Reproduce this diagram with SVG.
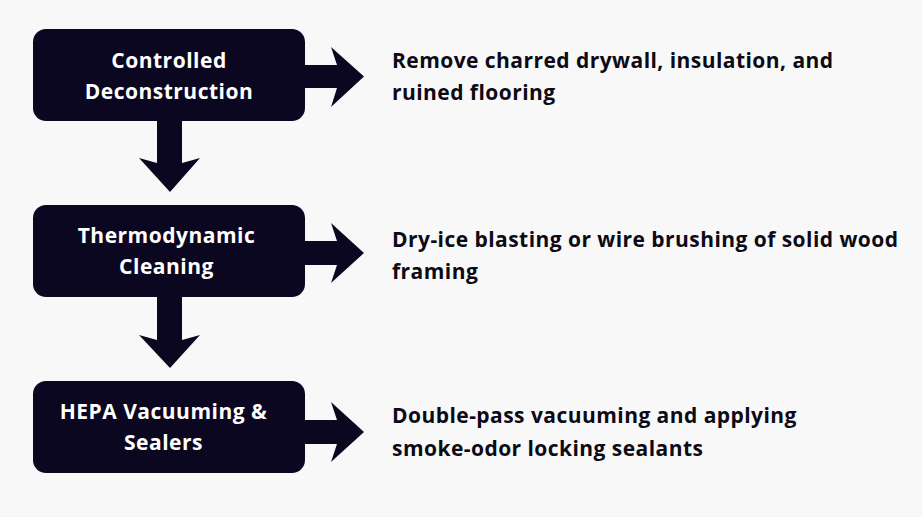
<svg xmlns="http://www.w3.org/2000/svg" width="922" height="517" viewBox="0 0 922 517">
<style>
.box{fill:#0c0720}
.arr{fill:#0c0720}
.bt{font-family:"Open Sans",sans-serif;font-weight:700;font-size:21px;letter-spacing:0.5px;fill:#ffffff;text-anchor:middle}
.dt{font-family:"Open Sans",sans-serif;font-weight:700;font-size:21px;letter-spacing:0.45px;fill:#0c0a14}
</style>
<rect width="922" height="517" fill="#f8f8f8"/>
<g id="connectors">
<path class="arr" d="M300,65 H337 L331,47 L364,76.5 L331,107 L337,88 H300 Z"/>
<path class="arr" d="M300,241 H337 L331,223 L364,253 L331,283 L337,265 H300 Z"/>
<path class="arr" d="M300,420 H337 L331,402 L364,432 L331,462 L337,444 H300 Z"/>
<path class="arr" d="M157,115 V163 L139,158 L170,192 L200,158 L182,163 V115 Z"/>
<path class="arr" d="M157,292 V340 L139,335 L170,368 L200,335 L182,340 V292 Z"/>
</g>
<g id="node1">
<rect class="box" x="33" y="29" width="272" height="92" rx="13"/>
<text class="bt" x="169" y="68">Controlled</text>
<text class="bt" x="169" y="99">Deconstruction</text>
</g>
<g id="node2">
<rect class="box" x="33" y="205" width="272" height="92" rx="13"/>
<text class="bt" x="166.5" y="243">Thermodynamic</text>
<text class="bt" x="166.5" y="274">Cleaning</text>
</g>
<g id="node3">
<rect class="box" x="33" y="381" width="272" height="92" rx="13"/>
<text class="bt" x="163.5" y="419">HEPA Vacuuming &amp;</text>
<text class="bt" x="163.5" y="450">Sealers</text>
</g>
<g id="desc1">
<text class="dt" x="392" y="68">Remove charred drywall, insulation, and</text>
<text class="dt" x="392" y="100">ruined flooring</text>
</g>
<g id="desc2">
<text class="dt" x="392" y="247">Dry-ice blasting or wire brushing of solid wood</text>
<text class="dt" x="392" y="279">framing</text>
</g>
<g id="desc3">
<text class="dt" x="392" y="423">Double-pass vacuuming and applying</text>
<text class="dt" x="392" y="456">smoke-odor locking sealants</text>
</g>
</svg>
